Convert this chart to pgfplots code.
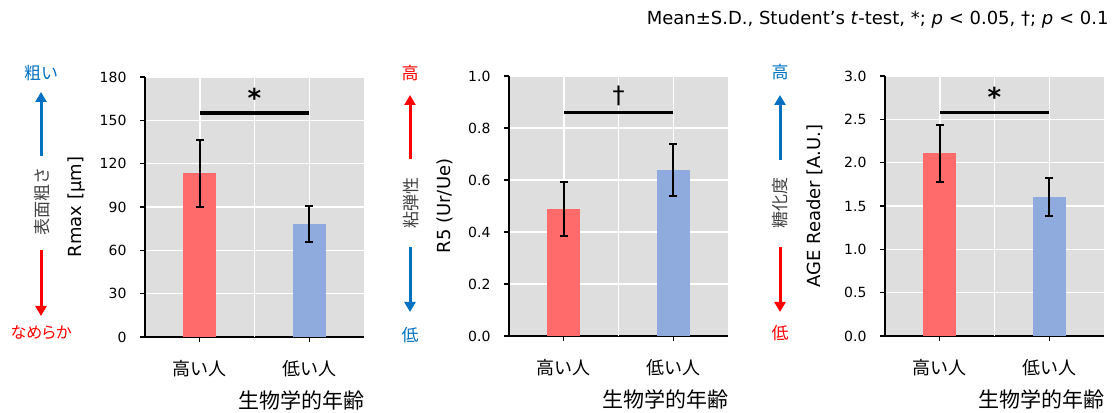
\documentclass[border=0pt]{standalone}
\usepackage{fontspec}
\setmainfont{DejaVu Sans}
\newfontfamily\cjk{Noto Sans CJK JP}
\usepackage{pgfplots}
\pgfplotsset{compat=1.18}
\usetikzlibrary{arrows.meta}
\definecolor{bg}{HTML}{DEDEDE}
\definecolor{barred}{HTML}{FF6A6A}
\definecolor{barblue}{HTML}{8FAADC}
\definecolor{tblue}{HTML}{0070C0}
\definecolor{tred}{HTML}{FF0000}
\pgfplotsset{
 panel/.style={
  scale only axis, width=219pt, height=260pt,
  anchor=south west,
  xmin=-0.5, xmax=1.5, ymin=0,
  xtick={0,1}, xticklabels={高い人,低い人},
  axis x line*=bottom, axis y line*=left,
  axis line style={line width=1.6pt, black, -},
  tick align=outside, major tick length=5pt,
  tick style={line width=1.3pt, black},
  axis background/.style={fill=bg},
  xmajorgrids, ymajorgrids,
  grid style={white, line width=1.5pt},
  extra x ticks={0.5}, extra x tick labels={{}},
  extra x tick style={major tick length=0pt, grid=major},
  /pgf/number format/assume math mode=true,
  yticklabel style={font=\fontsize{14}{16}\selectfont, xshift=-10pt},
  xticklabel style={font=\cjk\fontsize{18}{20}\selectfont, yshift=-15pt},
  ylabel style={font=\fontsize{18}{20}\selectfont, at={(axis description cs:0,0.5)}, anchor=center},
  xlabel style={font=\cjk\fontsize{21}{23}\selectfont, at={(axis description cs:1,0)}, anchor=east, yshift=-63pt, xshift=4pt},
  xlabel={生物学的年齢},
  clip=false,
 },
 bars/.style={ybar, bar width=0.3, bar shift=0pt, draw=none, fill=#1,
   error bars/.cd, y dir=both, y explicit,
   error bar style={line width=2pt, black},
   error mark options={rotate=90, mark size=4pt, line width=2pt, black}},
 sig/.style={black, line width=3.5pt, no marks, sharp plot},
}
\begin{document}
\begin{tikzpicture}[x=1pt,y=1pt]
\useasboundingbox (0,0) rectangle (1118,412);
\node[anchor=east, font=\fontsize{18}{20}\selectfont] at (1112,392) {Mean±S.D., Student’s \textit{t}-test, *; \textit{p} < 0.05, †; \textit{p} < 0.1};

% panel 1
\begin{axis}[panel, at={(145pt,75pt)}, ymax=180, ytick={0,30,60,90,120,150,180}, ylabel={Rmax [μm]},
  ylabel style={yshift=68pt}]
\addplot[bars=barred] coordinates {(0,113.3) +- (0,23)};
\addplot[bars=barblue] coordinates {(1,78) +- (0,12.5)};
\addplot[sig] coordinates {(0,155) (1,155)};
\node at (axis cs:0.5,165.5) {\fontsize{26}{28}\selectfont\bfseries *};
\end{axis}

% panel 2
\begin{axis}[panel, at={(509pt,76pt)}, ymax=1, ytick={0,0.2,0.4,0.6,0.8,1.0}, ylabel={R5 (Ur/Ue)},
  ylabel style={yshift=64pt},
  yticklabel style={/pgf/number format/.cd, fixed, fixed zerofill, precision=1}]
\addplot[bars=barred] coordinates {(0,0.487) +- (0,0.104)};
\addplot[bars=barblue] coordinates {(1,0.637) +- (0,0.100)};
\addplot[sig] coordinates {(0,0.859) (1,0.859)};
\node at (axis cs:0.5,0.925) {\fontsize{24}{26}\selectfont †};
\end{axis}

% panel 3
\begin{axis}[panel, at={(885pt,76pt)}, ymax=3, ytick={0,0.5,1.0,1.5,2.0,2.5,3.0}, ylabel={AGE Reader [A.U.]},
  ylabel style={yshift=70pt},
  yticklabel style={/pgf/number format/.cd, fixed, fixed zerofill, precision=1}]
\addplot[bars=barred] coordinates {(0,2.108) +- (0,0.332)};
\addplot[bars=barblue] coordinates {(1,1.604) +- (0,0.218)};
\addplot[sig] coordinates {(0,2.58) (1,2.58)};
\node at (axis cs:0.5,2.755) {\fontsize{26}{28}\selectfont\bfseries *};
\end{axis}

% left annotations
\tikzset{ann/.style={font=\cjk\fontsize{17}{19}\selectfont},
  arr/.style={line width=3pt, -{Triangle[width=11pt,length=10pt]}}}
% panel 1
\node[ann, text=tblue] at (41,339) {粗い};
\draw[arr, tblue] (41,256) -- (41,320);
\node[ann, rotate=90, text=black!75] at (42,210) {表面粗さ};
\draw[arr, tred] (41,162) -- (41,96);
\node[ann, text=tred, font=\cjk\fontsize{16}{18}\selectfont] at (41,79) {\addfontfeatures{RawFeature=+palt}なめらか};
% panel 2
\node[ann, text=tred] at (410,339) {高};
\draw[arr, tred] (410,253) -- (410,317);
\node[ann, rotate=90, text=black!75] at (411,209) {粘弾性};
\draw[arr, tblue] (410,165) -- (410,100);
\node[ann, text=tblue] at (410,77) {低};
% panel 3
\node[ann, text=tblue] at (780,340) {高};
\draw[arr, tblue] (780,252) -- (780,317);
\node[ann, rotate=90, text=black!75] at (780,209) {糖化度};
\draw[arr, tred] (780,165) -- (780,100);
\node[ann, text=tred] at (780,79) {低};
\end{tikzpicture}
\end{document}
